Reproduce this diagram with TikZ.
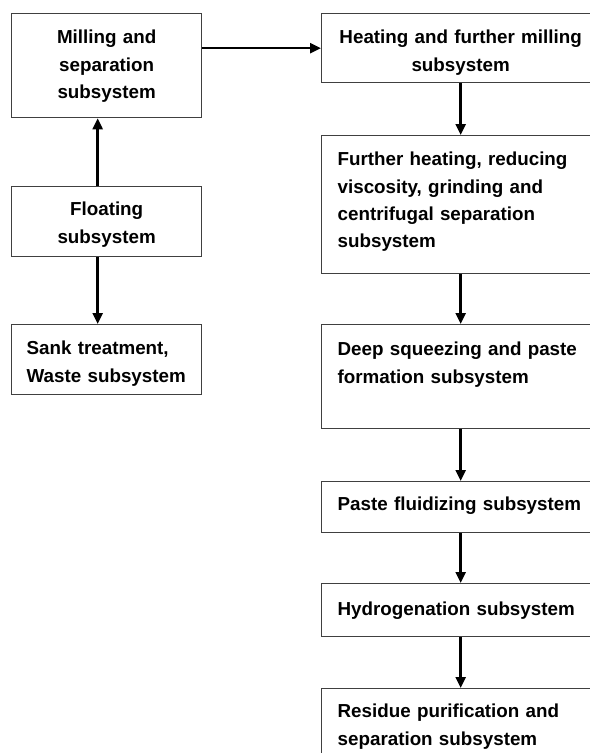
\documentclass[tikz,border=0pt]{standalone}
\usepackage{fontspec}
\setmainfont{Liberation Sans}
\usetikzlibrary{arrows.meta}

\tikzset{
  subsys/.style={draw=black!75, line width=1.3bp, anchor=north west,
    inner ysep=0pt, font=\fontsize{18.8bp}{27.4bp}\selectfont\bfseries},
  leftbox/.style={subsys, inner xsep=15bp, text width=160bp},
  rightbox/.style={subsys, inner xsep=16bp, text width=246bp, align=left},
  flow/.style={line width=2.4bp, -{Triangle[length=11bp,width=10bp]}}
}

\begin{document}
\begin{tikzpicture}[x=1bp, y=-1bp]
    \useasboundingbox (0,0) rectangle (590,753);
    % 左列
    \node[leftbox, align=center, text height=30bp, text depth=74bp] (mill) at (11,13)
        {Milling and\\separation\\subsystem};
    \node[leftbox, align=center, text height=29bp, text depth=41bp] (float) at (11,186)
        {Floating\\subsystem};
    \node[leftbox, align=left, text height=30bp, text depth=40bp] (sank) at (11,324)
        {Sank treatment,\\Waste subsystem};
    % 右列
    \node[rightbox, align=center, text height=30bp, text depth=39bp] (heat) at (321,13)
        {Heating and further milling\\subsystem};
    \node[rightbox, text height=30bp, text depth=108bp] (further) at (321,135)
        {Further heating, reducing\\viscosity, grinding and\\centrifugal separation\\subsystem};
    \node[rightbox, text height=31bp, text depth=73bp] (deep) at (321,324)
        {Deep squeezing and paste\\formation subsystem};
    \node[rightbox, text height=29bp, text depth=22bp] (fluid) at (321,481)
        {Paste fluidizing subsystem};
    \node[rightbox, text height=32bp, text depth=21bp] (hydro) at (321,583)
        {Hydrogenation subsystem};
    \node[rightbox, text height=29bp, text depth=63bp] (resid) at (321,688)
        {Residue purification and\\separation subsystem};
    % 箭头
    \draw[flow] ([xshift=-9bp]float.north) -- ([xshift=-9bp]mill.south);
    \draw[flow] ([xshift=-9bp]float.south) -- ([xshift=-9bp]sank.north);
    \draw[flow] (heat.west -| mill.east) -- (heat.west);
    \draw[flow] (heat.south) -- (further.north);
    \draw[flow] (further.south) -- (deep.north);
    \draw[flow] (deep.south) -- (fluid.north);
    \draw[flow] (fluid.south) -- (hydro.north);
    \draw[flow] (hydro.south) -- (resid.north);
\end{tikzpicture}
\end{document}
